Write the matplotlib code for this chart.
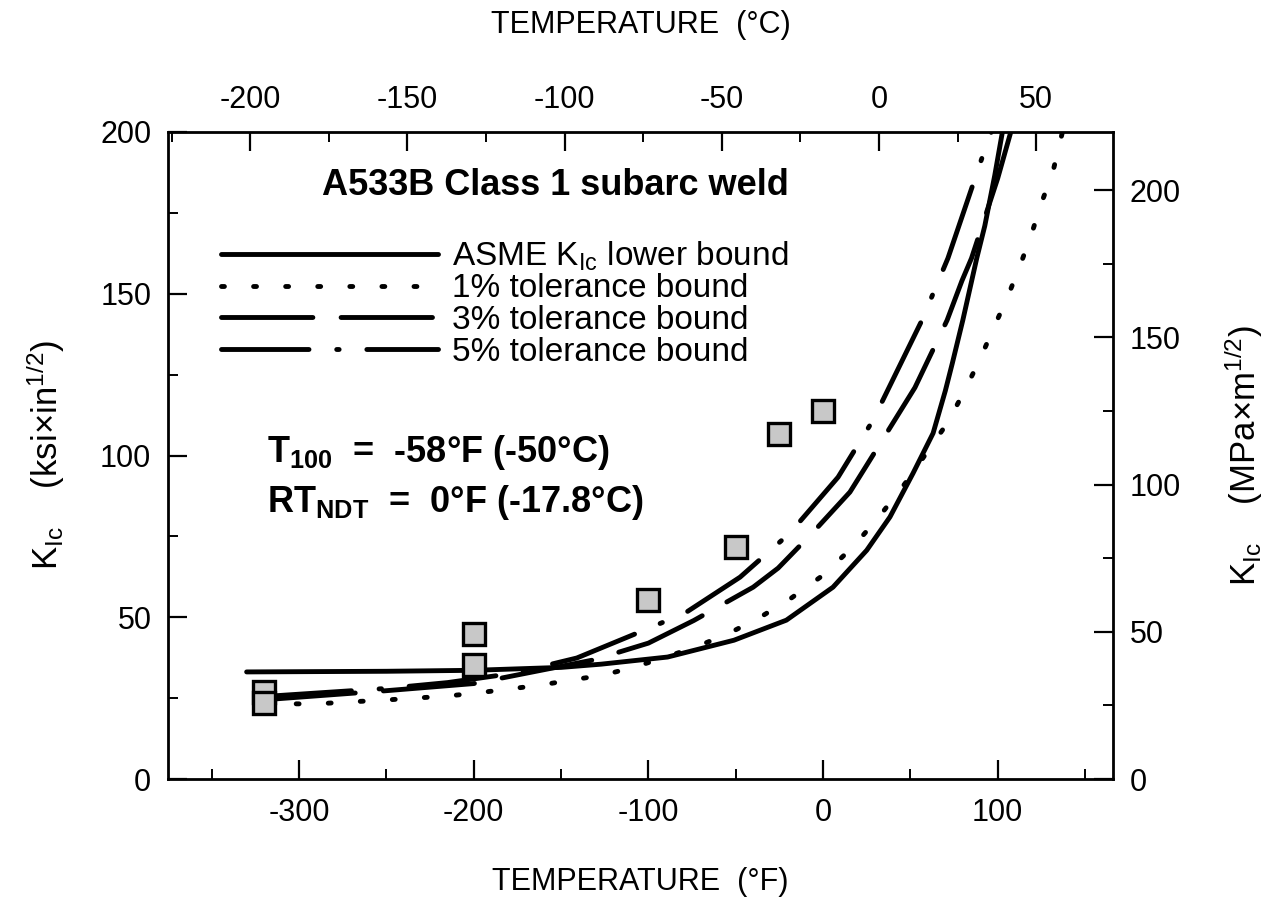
import numpy as np
import matplotlib
matplotlib.use('Agg')
import matplotlib.pyplot as plt
from matplotlib.ticker import MultipleLocator

plt.rcParams['font.family'] = ['Liberation Sans', 'DejaVu Sans']
plt.rcParams['mathtext.fontset'] = 'custom'
plt.rcParams['mathtext.rm'] = 'Liberation Sans'
plt.rcParams['mathtext.bf'] = 'Liberation Sans:bold'
plt.rcParams['mathtext.it'] = 'Liberation Sans:italic'
plt.rcParams['axes.unicode_minus'] = False

# ASME KIc lower bound (T in F, K in ksi*in^1/2)
asme_T = [-330, -250, -200, -150, -127, -89, -51, -21, 5.7, 25, 38.3, 51.5, 63, 70, 74, 80, 88, 92.6, 98.3, 103]
asme_K = [33.1, 33.3, 33.6, 34.5, 35.5, 37.7, 42.9, 49.1, 59.3, 70.7, 81, 94.5, 106.9, 120, 128.5, 141.8, 161, 171, 186.6, 201]

# 1% tolerance bound
tol1_T = [-320, -291, -272, -251, -234, -216, -198, -180, -162, -144, -126, -108, -90, -72, -54, -36, -18, 0, 17, 31.4, 47, 59.5, 71.5, 81, 89.8, 97.8, 105.8, 113, 119.5, 125, 131.5, 137.5]
tol1_K = [23.3, 23.2, 23.8, 24.4, 25.0, 25.6, 26.6, 27.8, 29.0, 30.6, 32.1, 34.6, 37.7, 41.0, 45.0, 50.0, 56.0, 63.0, 71.7, 80.6, 91.4, 101.0, 110.3, 120.0, 129.7, 139.6, 149.2, 159.0, 168.7, 178.0, 187.5, 201]

# 3% tolerance bound
tol3_T = [-320, -250, -200, -131.5, -100, -74, -40, -25.7, -5.7, 15.4, 25, 52.6, 71, 79.5, 85, 100, 108]
tol3_K = [24.5, 27.3, 29.5, 36.8, 42.0, 49.0, 59.3, 65.2, 76.3, 88.7, 97.0, 121.0, 141.8, 154.0, 161.0, 185.7, 201]

# 5% tolerance bound
tol5_T = [-320, -250, -215, -177, -141, -110, -79, -47.5, -19, 8.6, 28.6, 56.6, 71.5, 91.5, 97]
tol5_K = [25.5, 28.0, 29.8, 32.7, 37.4, 44.3, 51.3, 62.4, 76.0, 93.3, 110.9, 141.8, 161.0, 192.8, 201]

# measured data
data_T = [-320, -320, -200, -200, -100, -50, -25, 0]
data_K = [27.0, 23.5, 44.8, 35.2, 55.3, 71.7, 106.6, 113.7]

fig = plt.figure(figsize=(12.71, 9.01), dpi=100)
ax = fig.add_axes([0.1322, 0.1354, 0.7435, 0.7181])

lw = 3.5
ax.plot(asme_T, asme_K, color='black', lw=lw, solid_capstyle='round',
        label=r'ASME K$_{\rm Ic}$ lower bound')
ax.plot(tol1_T, tol1_K, color='black', lw=lw, dash_capstyle='round',
        linestyle=(0, (0.6, 6.0)), label='1% tolerance bound')
ax.plot(tol3_T, tol3_K, color='black', lw=lw, dash_capstyle='round',
        linestyle=(0, (18.8, 5.8)), label='3% tolerance bound')
ax.plot(tol5_T, tol5_K, color='black', lw=lw, dash_capstyle='round',
        linestyle=(0, (18, 5.7, 0.5, 5.7)), label='5% tolerance bound')
ax.plot(data_T, data_K, linestyle='none', marker='s', markersize=15.5,
        markerfacecolor='#c8c8c8', markeredgecolor='black', markeredgewidth=2.4)

ax.set_xlim(-375, 166)
ax.set_ylim(0, 200)

ax.xaxis.set_major_locator(MultipleLocator(100))
ax.xaxis.set_minor_locator(MultipleLocator(50))
ax.yaxis.set_major_locator(MultipleLocator(50))
ax.yaxis.set_minor_locator(MultipleLocator(25))

for s in ax.spines.values():
    s.set_linewidth(2)

ax.tick_params(which='major', length=14, width=1.6, direction='in', labelsize=22)
ax.tick_params(which='minor', length=7, width=1.4, direction='in')
ax.tick_params(axis='x', which='major', pad=14)
ax.tick_params(axis='y', which='major', pad=12)

ax.set_xlabel('TEMPERATURE  (°F)', fontsize=22, labelpad=28)
ax.set_ylabel(r'K$_{\rm Ic}$    (ksi×in$^{1/2}$)', fontsize=25, labelpad=24)

# Celsius on top
top = ax.secondary_xaxis('top', functions=(lambda f: (f - 32) / 1.8, lambda c: c * 1.8 + 32))
top.xaxis.set_major_locator(MultipleLocator(50))
top.xaxis.set_minor_locator(MultipleLocator(25))
top.tick_params(which='major', length=14, width=1.6, direction='in', labelsize=22, pad=12)
top.tick_params(which='minor', length=7, width=1.4, direction='in')
top.set_xlabel('TEMPERATURE  (°C)', fontsize=22, labelpad=38)

# MPa*m^1/2 on right
right = ax.secondary_yaxis('right', functions=(lambda k: k * 1.0988, lambda m: m / 1.0988))
right.yaxis.set_major_locator(MultipleLocator(50))
right.yaxis.set_minor_locator(MultipleLocator(25))
right.tick_params(which='major', length=14, width=1.6, direction='in', labelsize=22, pad=12)
right.tick_params(which='minor', length=7, width=1.4, direction='in')
right.set_ylabel(r'K$_{\rm Ic}$    (MPa×m$^{1/2}$)', fontsize=25, labelpad=30)

ax.text(0.41, 0.918, 'A533B Class 1 subarc weld', transform=ax.transAxes,
        fontsize=26, fontweight='bold', ha='center', va='center')

leg = ax.legend(loc='upper left', bbox_to_anchor=(0.056, 0.834), frameon=False,
                fontsize=24, handlelength=6.5, handletextpad=0.42,
                labelspacing=0.02, borderpad=0, borderaxespad=0)

ax.text(0.105, 0.505, r'T$_{\mathbf{100}}$  =  -58°F (-50°C)', transform=ax.transAxes,
        fontsize=26, fontweight='bold', ha='left', va='center')
ax.text(0.105, 0.427, r'RT$_{\mathbf{NDT}}$  =  0°F (-17.8°C)', transform=ax.transAxes,
        fontsize=26, fontweight='bold', ha='left', va='center')

fig.savefig('out.png', dpi=100)
